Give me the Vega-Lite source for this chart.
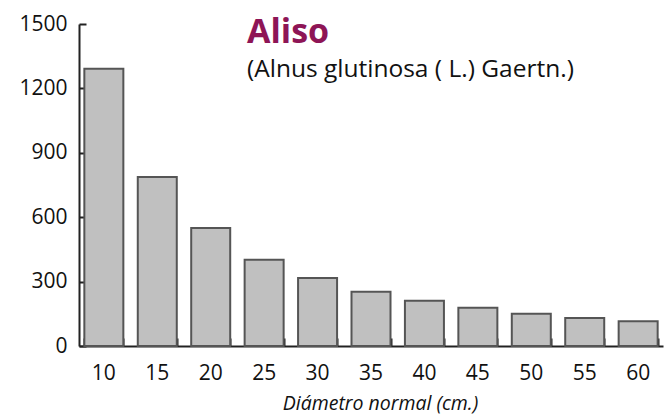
{
  "$schema": "https://vega.github.io/schema/vega-lite/v6.json",
  "autosize": "none",
  "width": 584,
  "height": 322,
  "padding": {"left": 79, "top": 24, "right": 2, "bottom": 68},
  "background": "white",
  "title": {
    "text": "Aliso",
    "subtitle": "(Alnus glutinosa ( L.) Gaertn.)",
    "anchor": "start",
    "frame": "group",
    "orient": "top",
    "dx": 168,
    "dy": 72,
    "font": "Open Sans",
    "fontSize": 34,
    "fontWeight": "bold",
    "color": "#8e1556",
    "subtitleFont": "Open Sans",
    "subtitleFontSize": 24.5,
    "subtitleColor": "#111111",
    "subtitlePadding": 8
  },
  "data": {
    "values": [
      {"diametro": "10", "n": 1292},
      {"diametro": "15", "n": 787},
      {"diametro": "20", "n": 550},
      {"diametro": "25", "n": 402},
      {"diametro": "30", "n": 317},
      {"diametro": "35", "n": 253},
      {"diametro": "40", "n": 211},
      {"diametro": "45", "n": 178},
      {"diametro": "50", "n": 150},
      {"diametro": "55", "n": 131},
      {"diametro": "60", "n": 115}
    ]
  },
  "resolve": {"axis": {"x": "independent", "y": "independent"}},
  "layer": [
    {
      "mark": {"type": "bar", "fill": "#c0c0c0", "stroke": "#555555", "strokeWidth": 2},
      "encoding": {
        "x": {
          "field": "diametro",
          "type": "ordinal",
          "sort": null,
          "scale": {"paddingInner": 0.27, "paddingOuter": 0.1},
          "axis": {
            "orient": "bottom",
            "title": "Diámetro normal (cm.)",
            "titleFont": "Open Sans",
            "titleFontSize": 19.5,
            "titleFontStyle": "italic",
            "titleFontWeight": "normal",
            "titleColor": "#111111",
            "titlePadding": 11,
            "titleX": 301,
            "labelAngle": 0,
            "labelFont": "Open Sans",
            "labelFontSize": 21,
            "labelColor": "#111111",
            "labelPadding": 16,
            "ticks": false,
            "domainColor": "#222222",
            "domainWidth": 2,
            "grid": false
          }
        },
        "y": {
          "field": "n",
          "type": "quantitative",
          "scale": {"domain": [0, 1500], "nice": false},
          "axis": {
            "orient": "left",
            "title": null,
            "values": [0, 300, 600, 900, 1200, 1500],
            "format": "d",
            "labelFont": "Open Sans",
            "labelFontSize": 21,
            "labelColor": "#111111",
            "labelPadding": 12,
            "ticks": false,
            "domainColor": "#222222",
            "domainWidth": 2,
            "grid": false
          }
        }
      }
    },
    {
      "mark": {"type": "bar", "fillOpacity": 0, "strokeOpacity": 0},
      "encoding": {
        "x": {
          "field": "diametro",
          "type": "ordinal",
          "sort": null,
          "axis": {
            "orient": "bottom",
            "offset": -8,
            "title": null,
            "labels": false,
            "domain": false,
            "tickBand": "extent",
            "tickSize": 8,
            "tickWidth": 2,
            "tickColor": "#222222",
            "grid": false
          }
        },
        "y": {
          "field": "n",
          "type": "quantitative",
          "axis": {
            "orient": "left",
            "offset": -7,
            "title": null,
            "values": [0, 300, 600, 900, 1200, 1500],
            "labels": false,
            "domain": false,
            "tickSize": 7,
            "tickWidth": 2,
            "tickColor": "#222222",
            "grid": false
          }
        }
      }
    }
  ],
  "config": {"view": {"stroke": null}}
}
